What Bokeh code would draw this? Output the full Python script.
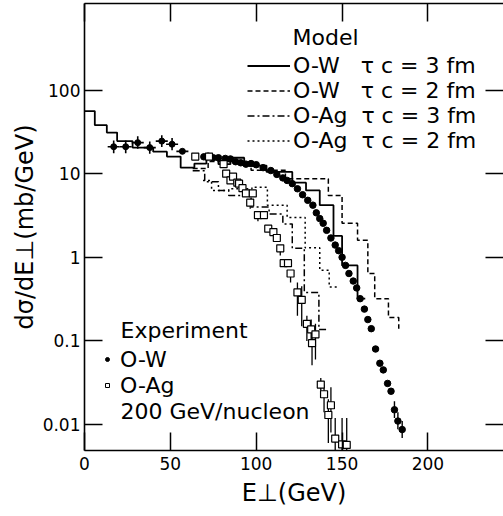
import math
from bokeh.plotting import figure
from bokeh.models import (Range1d, LinearAxis, LogAxis, FixedTicker, CustomJSTickFormatter,
                          Label, Legend, LegendItem, Title)
from bokeh.embed import file_html
from bokeh.resources import INLINE

FONT = "DejaVu Sans"
NB = "\u00a0"
NAN = float("nan")

# ---------------- data ----------------
x_ticks = [0, 50, 100, 150, 200]
y_ticks = [0.01, 0.1, 1, 10, 100]

# Model: O-W, tau c = 3 fm (solid histogram) -- bin edges and contents
ow3_edges = [0, 6, 13, 19, 28, 40, 48, 56, 64, 71, 78, 85, 93, 106, 121, 129, 137, 145, 150, 159, 163.5]
ow3_vals = [56, 38, 31, 24.5, 20.5, 18.3, 16, 11.8, 13.2, 16, 13, 15.5, 12.5, 10.5, 7.8, 6.3, 4.2, 1.8, 0.8, 0.32]
ow3_end = 0.32

# Model: O-W, tau c = 2 fm (dashed)
ow2_edges = [63, 72, 85, 97, 117, 142, 150, 159, 165, 169, 177, 183]
ow2_vals = [11.5, 14, 13.5, 11, 8.7, 5.5, 2.55, 1.6, 0.64, 0.32, 0.19]
ow2_end = 0.14

# Model: O-Ag, tau c = 3 fm (dash-dot)
ag3_edges = [63, 70, 78, 84, 97, 107.5, 115.5, 121, 128, 136.5, 142]
ag3_vals = [10.8, 8.0, 6.3, 5.5, 4.0, 3.3, 2.5, 1.28, 0.38, 0.137]
ag3_end = 0.137

# Model: O-Ag, tau c = 2 fm (dotted)
ag2_edges = [69, 74, 84, 97.5, 106.5, 118, 128.5, 137, 142.5, 147.5]
ag2_vals = [8.3, 6.3, 6.6, 6.9, 4.2, 3.0, 1.3, 0.7, 0.44]
ag2_end = 0.44

# Experiment O-W, low E points with error crosses
owx_E = [17, 24, 31, 38, 45, 51, 57]
owx_y = [21, 21, 23.5, 20.5, 24.5, 22.5, 18.5]
owx_dE = [3.5, 3.5, 3.5, 3.5, 3.5, 3.5, 3.5]
owx_lo = [17.5, 17.5, 19.8, 17.3, 20.8, 19.0, 18.5]
owx_hi = [25, 25, 28, 24.3, 28.8, 26.7, 18.5]

# Experiment O-W (filled dots)
ow_E = [69.5, 72, 75, 78, 82, 85, 88, 91, 94, 97, 100, 104, 108.5, 112, 115.5, 118, 121, 124, 127,
        130, 133, 135, 137, 139, 141, 143.5, 146, 148, 150, 152, 154, 156.5, 158.5, 160.5, 163, 165,
        167, 169.5, 172, 174, 176.5, 178.5, 180.5, 182.5, 185]
ow_y = [15.9, 16.2, 15.5, 15.5, 15.2, 15, 13.9, 13.5, 13, 13.2, 12.8, 11.8, 10.9, 9.8, 8.9, 8.3, 7.6,
        6.6, 5.6, 4.8, 4.2, 3.4, 2.9, 2.55, 2.1, 1.7, 1.4, 1.2, 1.0, 0.8, 0.64, 0.52, 0.43, 0.32, 0.24,
        0.18, 0.14, 0.08, 0.054, 0.045, 0.031, 0.025, 0.015, 0.011, 0.0087]
ow_err_E = [180.5, 182.5, 185]
ow_err_lo = [0.012, 0.0088, 0.0069]
ow_err_hi = [0.019, 0.014, 0.011]

# Experiment O-Ag (open squares)
ag_E = [64.5, 72.5, 81, 82.5, 85, 86.5, 89, 90, 92, 94, 96.5, 98, 101, 104.5, 107, 110, 112, 114,
        116, 118.5, 120, 124, 126.5, 129.5, 132, 134.5, 132.5, 137.6, 139.5, 143.5, 142, 146, 150, 152.7]
ag_y = [16, 16, 13, 10, 8.3, 9.2, 7.8, 7.6, 6.7, 5.8, 4.5, 5.8, 3.2, 3.2, 2.2, 2.0, 1.7, 1.28,
        0.85, 0.85, 0.64, 0.38, 0.31, 0.16, 0.137, 0.12, 0.094, 0.03, 0.023, 0.017, 0.013, 0.0068, 0.0058, 0.0057]
ag_lo = [16, 16, 13, 10, 8.3, 9.2, 7.8, 7.6, 6.7, 5.8, 3.8, 5.8, 2.7, 3.2, 2.2, 2.0, 1.7, 1.05,
         0.85, 0.85, 0.5, 0.2, 0.15, 0.1, 0.1, 0.06, 0.051, 0.022, 0.014, 0.008, 0.006, 0.0049, 0.0049, 0.0049]
ag_hi = [16, 16, 13, 10, 8.3, 9.2, 7.8, 7.6, 6.7, 5.8, 4.5, 5.8, 3.2, 3.2, 2.2, 2.0, 1.7, 1.28,
         0.85, 0.85, 0.64, 0.5, 0.45, 0.2, 0.18, 0.16, 0.14, 0.036, 0.03, 0.028, 0.02, 0.012, 0.012, 0.012]

model_labels = ["O-W" + NB + NB + " τ c = 3 fm", "O-W" + NB + NB + " τ c = 2 fm",
                "O-Ag" + NB + " τ c = 3 fm", "O-Ag" + NB + " τ c = 2 fm"]

# ---------------- figure ----------------
p = figure(width=503, height=516, y_axis_type="log",
           x_range=Range1d(0, 244), y_range=Range1d(0.00489, 1084),
           output_backend="svg", toolbar_location=None,
           min_border_left=84, min_border_right=0, min_border_top=3, min_border_bottom=66)
p.xgrid.visible = False
p.ygrid.visible = False
p.outline_line_color = None
p.background_fill_color = "white"
p.border_fill_color = "white"


def style_axis(ax, ticks, show_labels=True):
    ax.ticker = FixedTicker(ticks=ticks)
    ax.major_tick_in = 18
    ax.major_tick_out = 0
    ax.minor_tick_line_color = None
    ax.axis_line_width = 1.6
    ax.major_tick_line_width = 1.5
    ax.axis_line_color = "black"
    ax.major_tick_line_color = "black"
    ax.major_label_text_font = FONT
    ax.major_label_text_color = "black"
    ax.major_label_text_font_size = "17px"
    if show_labels:
        ax.formatter = CustomJSTickFormatter(code="return tick.toString()")
    else:
        ax.formatter = CustomJSTickFormatter(code="return ''")
        ax.major_label_standoff = 0


style_axis(p.xaxis[0], x_ticks)
p.xaxis[0].major_label_standoff = 6
style_axis(p.yaxis[0], y_ticks)
p.yaxis[0].major_label_standoff = 4

top_ax = LinearAxis()
style_axis(top_ax, x_ticks, show_labels=False)
p.add_layout(top_ax, "above")
right_ax = LogAxis()
style_axis(right_ax, y_ticks, show_labels=False)
right_ax.axis_line_color = None
p.add_layout(right_ax, "right")

# axis titles
p.add_layout(Title(text="E⊥(GeV)", align="center", offset=9, standoff=9,
                   text_font=FONT, text_font_size="24px", text_font_style="normal",
                   text_color="black"), "below")
p.add_layout(Title(text="dσ/dE⊥(mb/GeV)", align="center", offset=-23, standoff=2,
                   text_font=FONT, text_font_size="24px", text_font_style="normal",
                   text_color="black"), "left")


def step_data(edges, vals, end):
    return list(edges), list(vals) + [end]


xs, ys = step_data(ow3_edges, ow3_vals, ow3_end)
r_ow3 = p.step(xs, ys, mode="after", line_color="black", line_width=1.8)
xs, ys = step_data(ow2_edges, ow2_vals, ow2_end)
r_ow2 = p.step(xs, ys, mode="after", line_color="black", line_width=1.5, line_dash="5 3")
xs, ys = step_data(ag3_edges, ag3_vals, ag3_end)
r_ag3 = p.step(xs, ys, mode="after", line_color="black", line_width=1.5, line_dash="7 3 2 3")
xs, ys = step_data(ag2_edges, ag2_vals, ag2_end)
r_ag2 = p.step(xs, ys, mode="after", line_color="black", line_width=1.5, line_dash="2 3")

# error bars
p.segment(x0=[e - d for e, d in zip(owx_E, owx_dE)], x1=[e + d for e, d in zip(owx_E, owx_dE)],
          y0=owx_y, y1=owx_y, line_color="black", line_width=1.6)
p.segment(x0=owx_E, x1=owx_E, y0=owx_lo, y1=owx_hi, line_color="black", line_width=1.6)
p.segment(x0=ow_err_E, x1=ow_err_E, y0=ow_err_lo, y1=ow_err_hi, line_color="black", line_width=1.4)
p.segment(x0=ag_E, x1=ag_E, y0=ag_lo, y1=ag_hi, line_color="black", line_width=1.3)

p.scatter(owx_E, owx_y, marker="circle", size=6, fill_color="black", line_color="black")
p.scatter(ow_E, ow_y, marker="circle", size=6.5, fill_color="black", line_color="black")
p.scatter(ag_E, ag_y, marker="square", size=7, fill_color="white", line_color="black", line_width=1.2)

# legend-only glyph styles (a single undrawable NaN point each)
r_leg_dot = p.scatter([NAN], [NAN], marker="circle", size=4, fill_color="black", line_color="black")
r_leg_sq = p.scatter([NAN], [NAN], marker="square", size=5, fill_color="white", line_color="black",
                     line_width=1)

leg_model = Legend(items=[LegendItem(label=model_labels[0], renderers=[r_ow3]),
                          LegendItem(label=model_labels[1], renderers=[r_ow2]),
                          LegendItem(label=model_labels[2], renderers=[r_ag3]),
                          LegendItem(label=model_labels[3], renderers=[r_ag2])],
                   location=(163, 297), glyph_width=43, glyph_height=25, label_height=25,
                   label_standoff=3, spacing=0, padding=0, margin=0,
                   border_line_color=None, background_fill_alpha=0,
                   label_text_font=FONT, label_text_font_size="22px", label_text_color="black")
p.add_layout(leg_model)

leg_exp = Legend(items=[LegendItem(label="O-W", renderers=[r_leg_dot], index=0),
                        LegendItem(label="O-Ag", renderers=[r_leg_sq], index=0)],
                 location=(18, 52), glyph_width=10, glyph_height=26, label_height=26,
                 label_standoff=8, spacing=0, padding=0, margin=0,
                 border_line_color=None, background_fill_alpha=0,
                 label_text_font=FONT, label_text_font_size="22px", label_text_color="black")
p.add_layout(leg_exp)


def add_label(text, x, y, size):
    p.add_layout(Label(x=x, y=y, x_units="screen", y_units="screen", text=text,
                       text_font=FONT, text_font_size=size, text_align="left",
                       text_baseline="middle", text_color="black"))


add_label("Model", 208, 413, "22px")
add_label("Experiment", 36, 120, "22px")
add_label("200 GeV/nucleon", 36, 39, "22px")

open("out.html", "w").write(file_html(p, INLINE))
